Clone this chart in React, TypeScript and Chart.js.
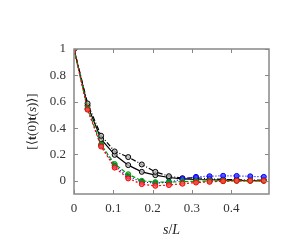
import React, { useEffect, useRef } from "react";
import { Chart, registerables } from "chart.js";

Chart.register(...registerables);

const xValues = [0, 1, 2, 3, 4, 5, 6, 7, 8, 9, 10, 11, 12, 13, 14].map((i) => i / 29);
const redValues = [1, 0.54, 0.26, 0.1, 0.018, -0.025, -0.038, -0.032, -0.022, -0.013, -0.008, -0.003, 0, 0, 0];
const greenValues = [1, 0.55, 0.275, 0.127, 0.05, 0, -0.01, -0.01, -0.006, -0.004, -0.002, 0, 0, 0, 0];
const blueValues = [1, 0.545, 0.27, 0.114, 0.033, -0.008, -0.018, -0.01, 0.013, 0.03, 0.035, 0.038, 0.037, 0.034, 0.03];
const blackSolidValues = [1, 0.57, 0.316, 0.197, 0.119, 0.068, 0.043, 0.025, 0.015, 0.01, 0.008, 0.005, 0.003, 0.002, 0.002];
const blackDashDotValues = [1, 0.587, 0.342, 0.223, 0.18, 0.124, 0.068, 0.035, 0.02, 0.023, 0.015, 0.01, 0.008, 0.005, 0.005];
const xTicks = [0, 0.1, 0.2, 0.3, 0.4];
const yTicks = [0, 0.2, 0.4, 0.6, 0.8, 1];

const FONT = "'Liberation Serif', 'DejaVu Serif', serif";

const frame = {
  id: "frame",
  afterDraw(chart: any) {
    const { ctx, chartArea: a, scales } = chart;
    ctx.save();
    ctx.strokeStyle = "#888";
    ctx.lineWidth = 1.5;
    ctx.strokeRect(a.left, a.top, a.right - a.left, a.bottom - a.top);
    ctx.lineWidth = 1;
    ctx.beginPath();
    const L = 4;
    xTicks.forEach((v) => {
      const px = Math.round(scales.x.getPixelForValue(v)) + 0.5;
      ctx.moveTo(px, a.bottom);
      ctx.lineTo(px, a.bottom - L);
      ctx.moveTo(px, a.top);
      ctx.lineTo(px, a.top + L);
    });
    yTicks.forEach((v) => {
      const py = Math.round(scales.y.getPixelForValue(v)) + 0.5;
      ctx.moveTo(a.left, py);
      ctx.lineTo(a.left + L, py);
      ctx.moveTo(a.right, py);
      ctx.lineTo(a.right - L, py);
    });
    ctx.stroke();

    ctx.fillStyle = "#222";
    ctx.textBaseline = "middle";
    const xs = [
      { t: "s", f: `italic 14px ${FONT}` },
      { t: "/", f: `14px ${FONT}` },
      { t: "L", f: `italic 14px ${FONT}` },
    ];
    let total = 0;
    xs.forEach((p) => { ctx.font = p.f; total += ctx.measureText(p.t).width; });
    let cx = (a.left + a.right) / 2 - total / 2;
    xs.forEach((p) => {
      ctx.font = p.f;
      ctx.textAlign = "left";
      ctx.fillText(p.t, cx, 230);
      cx += ctx.measureText(p.t).width;
    });
    const ys = [
      { t: "[\u27E8", f: `13px ${FONT}` },
      { t: "t", f: `bold 13px ${FONT}` },
      { t: "(0)", f: `13px ${FONT}` },
      { t: "t", f: `bold 13px ${FONT}` },
      { t: "(", f: `13px ${FONT}` },
      { t: "s", f: `italic 13px ${FONT}` },
      { t: ")\u27E9]", f: `13px ${FONT}` },
    ];
    total = 0;
    ys.forEach((p) => { ctx.font = p.f; total += ctx.measureText(p.t).width; });
    ctx.translate(33, (a.top + a.bottom) / 2);
    ctx.rotate(-Math.PI / 2);
    let cy = -total / 2;
    ys.forEach((p) => {
      ctx.font = p.f;
      ctx.textAlign = "left";
      ctx.fillText(p.t, cy, 0);
      cy += ctx.measureText(p.t).width;
    });
    ctx.restore();
  },
};

function mk(label: string, values: number[], color: string, fill: string, dash: number[]) {
  return {
    label,
    data: values.map((y, i) => ({ x: xValues[i], y })),
    borderColor: color,
    backgroundColor: fill,
    pointBorderColor: color,
    pointBackgroundColor: fill,
    pointRadius: 2.5,
    pointBorderWidth: 1,
    borderWidth: 1.2,
    borderDash: dash,
    tension: 0,
  };
}

const fmt = (v: any) => String(Math.round(Number(v) * 100) / 100);

export default function App() {
  const ref = useRef<HTMLCanvasElement>(null);
  useEffect(() => {
    if (!ref.current) return;
    const chart = new Chart(ref.current, {
      type: "line",
      data: {
        datasets: [
          mk("red", redValues, "#ff0000", "rgba(255,80,80,0.8)", [2, 2]),
          mk("green", greenValues, "#00a000", "rgba(0,160,0,0.6)", [4, 2]),
          mk("blue", blueValues, "#0000ff", "rgba(50,50,255,0.8)", [1, 2]),
          mk("black dash-dot", blackDashDotValues, "#000000", "rgba(190,190,190,0.8)", [5, 2, 1, 2]),
          mk("black", blackSolidValues, "#000000", "rgba(190,190,190,0.8)", []),
        ] as any,
      },
      options: {
        animation: false,
        responsive: false,
        layout: { padding: { top: 49, right: 31, left: 0, bottom: 0 } },
        plugins: { legend: { display: false }, tooltip: { enabled: false } },
        scales: {
          x: {
            type: "linear",
            min: 0,
            max: 0.496,
            grid: { display: false, drawTicks: false },
            border: { display: false },
            ticks: { padding: 7, color: "#333", font: { family: FONT, size: 13 }, maxRotation: 0, callback: fmt },
            afterBuildTicks: (s: any) => { s.ticks = xTicks.map((v) => ({ value: v })); },
            afterFit: (s: any) => { s.height = 56; },
          },
          y: {
            min: -0.1,
            max: 1,
            grid: { display: false, drawTicks: false },
            border: { display: false },
            ticks: { padding: 8, color: "#333", font: { family: FONT, size: 13 }, callback: fmt },
            afterBuildTicks: (s: any) => { s.ticks = yTicks.map((v) => ({ value: v })); },
            afterFit: (s: any) => { s.width = 74; },
          },
        },
      } as any,
      plugins: [frame],
    });
    return () => chart.destroy();
  }, []);
  return (
    <div style={{ position: "absolute", left: 0, top: 0, width: 300, height: 250, background: "#fff" }}>
      <canvas ref={ref} width={300} height={250} />
    </div>
  );
}
